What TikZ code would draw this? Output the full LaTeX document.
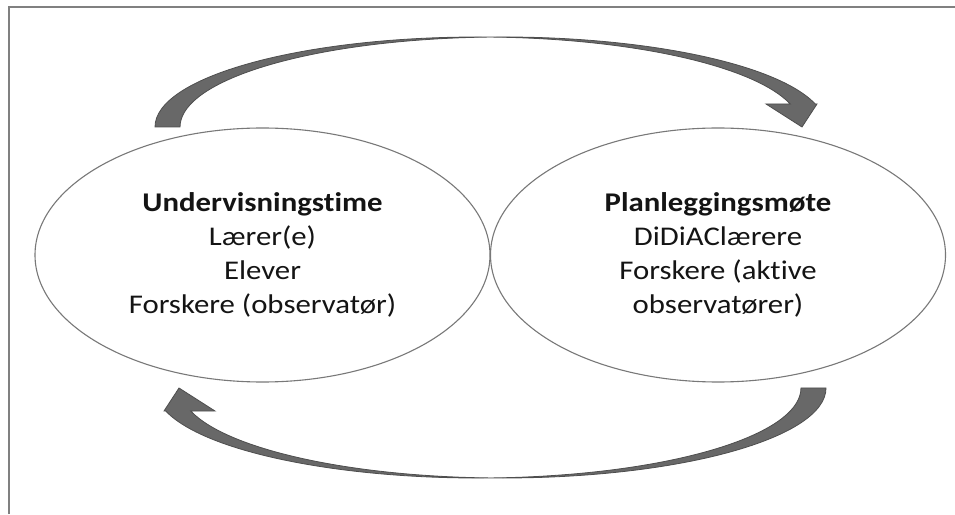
\documentclass[tikz,border=0pt]{standalone}
\usepackage{fontspec}
\setmainfont[FakeStretch=1.14,Ligatures={NoCommon}]{Carlito}
\usetikzlibrary{shapes.geometric}
\definecolor{framegray}{RGB}{128,128,128}
\definecolor{ovalgray}{RGB}{120,120,120}
\definecolor{arrowgray}{RGB}{104,104,104}
\definecolor{arrowedge}{RGB}{78,78,78}
\definecolor{txt}{RGB}{20,20,20}
\begin{document}
\begin{tikzpicture}[x=1pt,y=1pt,
  oval/.style={ellipse, draw=ovalgray, line width=1.1pt, fill=white,
    minimum width=455pt, minimum height=254pt, inner sep=0pt, outer sep=0pt,
    align=center, text=txt, font=\fontsize{27}{34}\selectfont},
  cyclearrow/.style={fill=arrowgray, draw=arrowedge, line width=0.8pt, line join=miter}]
\useasboundingbox (0,0) rectangle (955,514);
\draw[framegray, line width=1.5pt] (9,0) -- (9,507) -- (955,507);
\node[oval] (teach) at (262.5,259) {\textbf{Undervisningstime}\\Lærer(e)\\Elever\\Forskere (observatør)};
\node[oval] (plan) at (718,259) {\textbf{Planleggingsmøte}\\DiDiAClærere\\Forskere (aktive\\observatører)};
\path[cyclearrow] (155,387)
  arc[start angle=180, end angle=14.81, x radius=323, y radius=90]
  -- (766,410) -- (802,387) -- (817,410) -- (815.3,410)
  arc[start angle=14.81, end angle=180, x radius=323, y radius=90] -- cycle;
\path[cyclearrow, rotate around={180:(490.5,256.5)}] (155,387)
  arc[start angle=180, end angle=14.81, x radius=323, y radius=90]
  -- (766,410) -- (802,387) -- (817,410) -- (815.3,410)
  arc[start angle=14.81, end angle=180, x radius=323, y radius=90] -- cycle;
\end{tikzpicture}
\end{document}
